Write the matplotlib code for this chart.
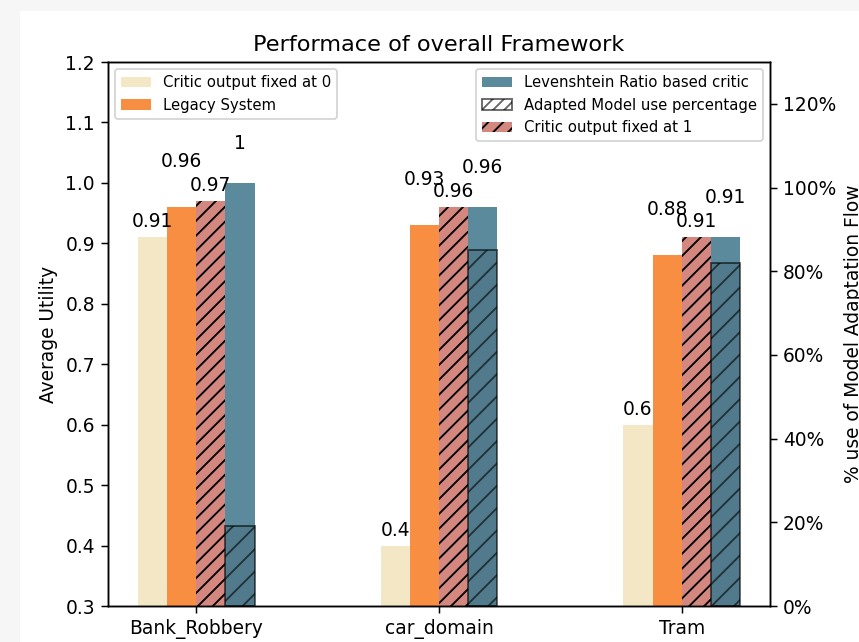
import numpy as np
import matplotlib
matplotlib.use("Agg")
import matplotlib.pyplot as plt
from matplotlib.patches import Patch, Rectangle
from matplotlib.ticker import PercentFormatter

# data
categories = ["Bank_Robbery", "car_domain", "Tram"]
critic_zero = [0.91, 0.4, 0.6]
legacy = [0.96, 0.93, 0.88]
critic_one = [0.97, 0.96, 0.91]
levenshtein = [1.0, 0.96, 0.91]
adapted_pct = [0.19, 0.85, 0.82]

c_cream = "#F3E7C5"
c_orange = "#F78E42"
c_pink = "#D4877F"
c_teal = "#5B8A9C"

W, H, DPI = 859, 642, 134
fig = plt.figure(figsize=(W / DPI, H / DPI), dpi=DPI, facecolor="#f6f6f6")
# white figure area of the screenshot
fig.patches.append(Rectangle((20 / W, 0), 1, 1 - 11 / H, transform=fig.transFigure,
                             facecolor="white", edgecolor="none", zorder=-10))

ax = fig.add_axes([108 / W, (H - 606) / H, 662 / W, 544 / H])
ax2 = ax.twinx()

x = np.arange(len(categories))
w = 0.12

b0 = ax.bar(x - 1.5 * w, critic_zero, w, color=c_cream, label="Critic output fixed at 0")
b1 = ax.bar(x - 0.5 * w, legacy, w, color=c_orange, label="Legacy System")
b2 = ax.bar(x + 0.5 * w, critic_one, w, color=c_pink, edgecolor="black", linewidth=0,
            hatch="///", label="Critic output fixed at 1")
b3 = ax.bar(x + 1.5 * w, levenshtein, w, color=c_teal, label="Levenshtein Ratio based critic")

ax2.bar(x + 1.5 * w, adapted_pct, w, facecolor=(0, 0, 0, 0.1), edgecolor=(0, 0, 0, 0.6),
        linewidth=1, hatch="//")

# value labels
for vals, off, dx in [(critic_zero, 0.01, -1.5), (legacy, 0.06, -0.5),
                      (critic_one, 0.01, 0.5), (levenshtein, 0.05, 1.5)]:
    for xi, v in zip(x, vals):
        ax.text(xi + dx * w, v + off, f"{v:g}", ha="center", va="bottom", fontsize=10)

ax.set_ylim(0.3, 1.2)
ax2.set_ylim(0, 1.3)
ax2.yaxis.set_major_formatter(PercentFormatter(1.0, decimals=0))
ax.set_xticks(x)
ax.set_xticklabels(categories)
ax.set_ylabel("Average Utility")
ax2.set_ylabel("% use of Model Adaptation Flow")
ax.set_title("Performace of overall Framework")

ax.legend(handles=[b0, b1], loc="upper left", fontsize=8)
adapted_handle = Patch(facecolor="white", edgecolor=(0, 0, 0, 0.6), hatch="////",
                       label="Adapted Model use percentage")
ax2.legend(handles=[b3, adapted_handle, b2], loc="upper right", fontsize=8)

fig.savefig("out.png", dpi=DPI, facecolor=fig.get_facecolor())
